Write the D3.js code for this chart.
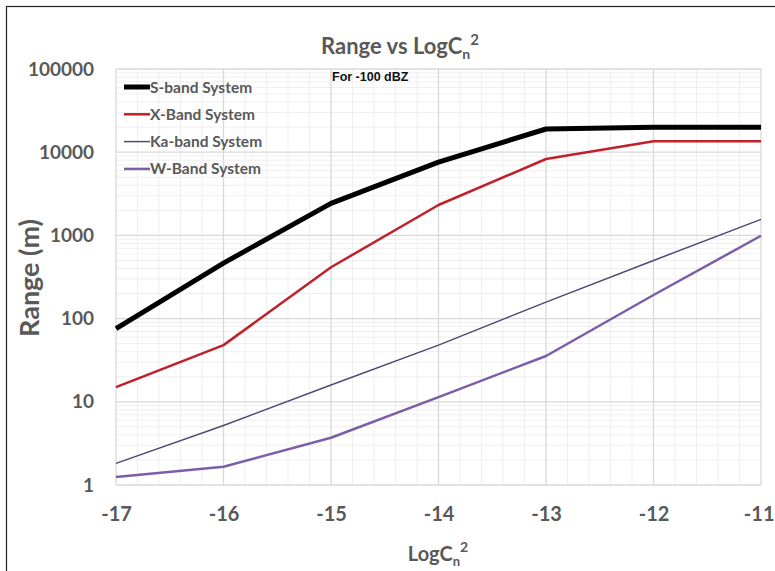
<!DOCTYPE html>
<html>
<head>
<meta charset="utf-8">
<script src="https://cdn.jsdelivr.net/npm/d3@7/dist/d3.min.js"></script>
<style>
  html, body { margin: 0; padding: 0; background: #fff; }
  svg { display: block; }
</style>
</head>
<body>
<svg id="chart" width="775" height="571"></svg>
<script>
// Range of each radar band versus log10 of Cn^2, for a -100 dBZ target
const logCn2 = [-17, -16, -15, -14, -13, -12, -11];
const sBand  = [76, 465, 2430, 7600, 19000, 20000, 19900];
const xBand  = [15, 48, 414, 2320, 8280, 13500, 13500];
const kaBand = [1.82, 5.2, 15.9, 48, 158, 500, 1560];
const wBand  = [1.25, 1.66, 3.7, 11.4, 35.5, 192, 990];
const yTicks = [1, 10, 100, 1000, 10000, 100000];
const xTicks = [-17, -16, -15, -14, -13, -12, -11];

const seriesList = [
  { name: "S-band System",  values: sBand,  color: "#000000", width: 5 },
  { name: "X-Band System",  values: xBand,  color: "#c0202a", width: 2.5 },
  { name: "Ka-band System", values: kaBand, color: "#4f4a72", width: 1.5 },
  { name: "W-Band System",  values: wBand,  color: "#7b5ea8", width: 2.5 }
];

const svg = d3.select("#chart");
const font = "Lato, 'Open Sans', sans-serif";
const textGray = "#595959";
const plainNum = d => String(d); // hyphen-minus, as in the spreadsheet labels

// outer chart frame
svg.append("rect")
  .attr("x", 6.5).attr("y", 6.5)
  .attr("width", 800).attr("height", 600)
  .attr("fill", "none").attr("stroke", "#222").attr("stroke-width", 1.2);

const plot = { left: 116, right: 761, top: 69, bottom: 485 };

const x = d3.scaleLinear().domain([-17, -11]).range([plot.left, plot.right]);
const y = d3.scaleLog().domain([1, 100000]).range([plot.bottom, plot.top]);

const grid = svg.append("g");

// minor vertical grid (fifths of a unit)
const minorX = [];
for (let v = -17; v < -11; v++) for (let k = 1; k < 5; k++) minorX.push(v + k / 5);
grid.selectAll(".mx").data(minorX).join("line")
  .attr("x1", d => x(d)).attr("x2", d => x(d))
  .attr("y1", plot.top).attr("y2", plot.bottom)
  .attr("stroke", "#efefef").attr("stroke-width", 1);

// minor horizontal grid (2..9 within each decade)
const minorY = [];
for (let e = 0; e < 5; e++) for (let m = 2; m < 10; m++) minorY.push(m * Math.pow(10, e));
grid.selectAll(".my").data(minorY).join("line")
  .attr("x1", plot.left).attr("x2", plot.right)
  .attr("y1", d => y(d)).attr("y2", d => y(d))
  .attr("stroke", "#efefef").attr("stroke-width", 1);

// major grid
grid.selectAll(".Mx").data(xTicks).join("line")
  .attr("x1", d => x(d)).attr("x2", d => x(d))
  .attr("y1", plot.top).attr("y2", plot.bottom)
  .attr("stroke", "#d9d9d9").attr("stroke-width", 1.3);
grid.selectAll(".My").data(yTicks).join("line")
  .attr("x1", plot.left).attr("x2", plot.right)
  .attr("y1", d => y(d)).attr("y2", d => y(d))
  .attr("stroke", "#d9d9d9").attr("stroke-width", 1.3);

// axes (labels only)
const yAxis = svg.append("g")
  .attr("transform", `translate(${plot.left - 22},0)`)
  .call(d3.axisLeft(y).tickValues(yTicks).tickFormat(plainNum).tickSize(0).tickPadding(0));
yAxis.select(".domain").remove();
yAxis.selectAll("text")
  .attr("font-family", font).attr("font-weight", "bold")
  .attr("font-size", 19).attr("fill", textGray);

const xAxis = svg.append("g")
  .attr("transform", `translate(0,${plot.bottom + 22})`)
  .call(d3.axisBottom(x).tickValues(xTicks).tickFormat(plainNum).tickSize(0).tickPadding(0));
xAxis.select(".domain").remove();
xAxis.selectAll("text")
  .attr("font-family", font).attr("font-weight", "bold")
  .attr("font-size", 20).attr("fill", textGray);
// keep the right-most label inside the frame
xAxis.selectAll(".tick").filter(d => d === -11).select("text")
  .attr("text-anchor", "end").attr("dx", 13);

// series lines
const line = d3.line()
  .x((d, i) => x(logCn2[i]))
  .y(d => y(d));

svg.append("g").selectAll("path").data(seriesList).join("path")
  .attr("d", s => line(s.values))
  .attr("fill", "none")
  .attr("stroke", s => s.color)
  .attr("stroke-width", s => s.width)
  .attr("stroke-linejoin", "round");

// legend
const legend = svg.append("g").attr("transform", "translate(124,87)");
const item = legend.selectAll("g").data(seriesList).join("g")
  .attr("transform", (d, i) => `translate(0,${i * 27.3})`);
item.append("line")
  .attr("x1", 0).attr("x2", 26).attr("y1", 0).attr("y2", 0)
  .attr("stroke", d => d.color).attr("stroke-width", d => d.width);
item.append("text")
  .attr("x", 26).attr("y", 5.5)
  .attr("font-family", font).attr("font-weight", "bold")
  .attr("font-size", 15.5).attr("fill", textGray)
  .text(d => d.name);

// annotation
svg.append("text")
  .attr("x", 332).attr("y", 81)
  .attr("font-family", "'Liberation Sans', Arial, sans-serif").attr("font-weight", "bold")
  .attr("font-size", 12.5).attr("fill", "#111")
  .text("For -100 dBZ");

// title with subscript n and superscript 2
const title = svg.append("text")
  .attr("x", 400).attr("y", 54)
  .attr("text-anchor", "middle")
  .attr("font-family", font).attr("font-weight", "bold")
  .attr("font-size", 22).attr("fill", textGray);
title.append("tspan").text("Range vs LogC");
title.append("tspan").attr("dy", 5).attr("font-size", 14).text("n");
title.append("tspan").attr("dy", -14).attr("font-size", 15).text("2");

// x axis title
const xt = svg.append("text")
  .attr("x", 438).attr("y", 561)
  .attr("text-anchor", "middle")
  .attr("font-family", font).attr("font-weight", "bold")
  .attr("font-size", 20).attr("fill", textGray);
xt.append("tspan").text("LogC");
xt.append("tspan").attr("dy", 5).attr("font-size", 13).text("n");
xt.append("tspan").attr("dy", -14).attr("font-size", 14).text("2");

// y axis title
svg.append("text")
  .attr("transform", "translate(39,278) rotate(-90)")
  .attr("text-anchor", "middle")
  .attr("font-family", font).attr("font-weight", "bold")
  .attr("font-size", 27).attr("fill", textGray)
  .text("Range (m)");
</script>
</body>
</html>
